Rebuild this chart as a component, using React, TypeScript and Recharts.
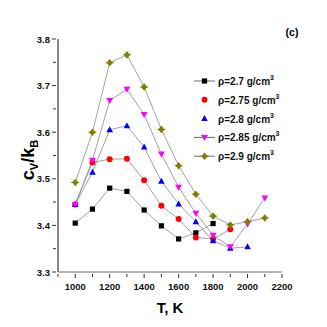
import { LineChart, Line, XAxis, YAxis } from 'recharts';

const temps = [1000, 1100, 1200, 1300, 1400, 1500, 1600, 1700, 1800, 1900, 2000, 2100];
const rho27 = [3.405, 3.435, 3.48, 3.473, 3.433, 3.399, 3.371, 3.384, 3.404];
const rho275 = [3.445, 3.535, 3.542, 3.543, 3.497, 3.442, 3.414, 3.374, 3.371, 3.392];
const rho28 = [3.445, 3.514, 3.605, 3.614, 3.568, 3.495, 3.446, 3.408, 3.367, 3.351, 3.354];
const rho285 = [3.445, 3.54, 3.668, 3.692, 3.638, 3.553, 3.482, 3.426, 3.379, 3.354, 3.403, 3.459];
const rho29 = [3.492, 3.6, 3.749, 3.766, 3.697, 3.606, 3.528, 3.467, 3.42, 3.401, 3.408, 3.416];

const xTicks = [900, 1000, 1100, 1200, 1300, 1400, 1500, 1600, 1700, 1800, 1900, 2000, 2100, 2200];
const yTicks = [3.3, 3.35, 3.4, 3.45, 3.5, 3.55, 3.6, 3.65, 3.7, 3.75, 3.8];

const series = [
  { key: 'r27', values: rho27, color: '#000000', shape: 'square', label: 'ρ=2.7 g/cm', legendLine: true },
  { key: 'r275', values: rho275, color: '#ff0000', shape: 'circle', label: 'ρ=2.75 g/cm', legendLine: false },
  { key: 'r28', values: rho28, color: '#0000ff', shape: 'up', label: 'ρ=2.8 g/cm', legendLine: false },
  { key: 'r285', values: rho285, color: '#ff00ff', shape: 'down', label: 'ρ=2.85 g/cm', legendLine: true },
  { key: 'r29', values: rho29, color: '#808000', shape: 'diamond', label: 'ρ=2.9 g/cm', legendLine: true },
];

const data = temps.map((t, i) => {
  const row: Record<string, number | undefined> = { T: t };
  series.forEach(s => { row[s.key] = s.values[i]; });
  return row;
});

const font = '"Liberation Sans", Arial, sans-serif';

function Marker({ cx, cy, shape, color }: { cx: number; cy: number; shape: string; color: string }) {
  if (cx == null || cy == null || isNaN(cy)) return null;
  switch (shape) {
    case 'square':
      return <rect x={cx - 2.6} y={cy - 2.6} width={5.2} height={5.2} fill={color} />;
    case 'circle':
      return <circle cx={cx} cy={cy} r={3} fill={color} />;
    case 'up':
      return <polygon points={`${cx},${cy - 3.5} ${cx + 3.3},${cy + 2.5} ${cx - 3.3},${cy + 2.5}`} fill={color} />;
    case 'down':
      return <polygon points={`${cx - 3.5},${cy - 2.5} ${cx + 3.5},${cy - 2.5} ${cx},${cy + 3.5}`} fill={color} />;
    default:
      return (
        <g>
          <polygon points={`${cx},${cy - 3.8} ${cx + 3.2},${cy} ${cx},${cy + 3.8} ${cx - 3.2},${cy}`} fill={color} />
          <line x1={cx - 4} y1={cy} x2={cx + 4} y2={cy} stroke={color} strokeWidth={1} />
        </g>
      );
  }
}

function XTick({ x, y, payload }: any) {
  const major = payload.value % 200 === 0;
  return (
    <g>
      <line x1={x} y1={y} x2={x} y2={y + (major ? 4 : 3)} stroke="#333" strokeWidth={1} />
      {major && (
        <text x={x} y={y + 16} textAnchor="middle" fontSize={9.5} fontWeight="bold" fontFamily={font} fill="#111">
          {payload.value}
        </text>
      )}
    </g>
  );
}

function YTick({ x, y, payload }: any) {
  const major = Math.abs(Math.round(payload.value * 10) - payload.value * 10) < 1e-6;
  return (
    <g>
      <line x1={x} y1={y} x2={x - (major ? 4 : 3)} y2={y} stroke="#333" strokeWidth={1} />
      {major && (
        <text x={x - 6} y={y + 3.5} textAnchor="end" fontSize={9.5} fontWeight="bold" fontFamily={font} fill="#111">
          {payload.value.toFixed(1)}
        </text>
      )}
    </g>
  );
}

export default function App() {
  return (
    <div style={{ position: 'absolute', left: 0, top: 0, width: 327, height: 327, background: '#fff' }}>
      <LineChart width={327} height={327} data={data} margin={{ top: 39, right: 45, left: 0, bottom: 25 }}>
        <XAxis
          dataKey="T"
          type="number"
          domain={[900, 2200]}
          ticks={xTicks}
          tick={<XTick />}
          tickLine={false}
          tickSize={0}
          height={30}
          stroke="#666"
          interval={0}
        />
        <YAxis
          type="number"
          domain={[3.3, 3.8]}
          ticks={yTicks}
          tick={<YTick />}
          tickLine={false}
          tickSize={0}
          width={58}
          stroke="#111"
          interval={0}
        />
        {series.map(s => (
          <Line
            key={s.key}
            dataKey={s.key}
            stroke="#8a8a8a"
            strokeWidth={0.8}
            isAnimationActive={false}
            connectNulls={false}
            dot={(p: any) => <Marker key={`${s.key}-${p.index}`} cx={p.cx} cy={p.cy} shape={s.shape} color={s.color} />}
            activeDot={false}
          />
        ))}
      </LineChart>
      <svg width={327} height={327} style={{ position: 'absolute', left: 0, top: 0, pointerEvents: 'none' }}>
        <text x={292} y={36} textAnchor="middle" fontSize={10.5} fontWeight="bold" fontFamily={font}>(c)</text>
        {series.map((s, i) => {
          const y = 81 + i * 18.8;
          return (
            <g key={s.key}>
              {s.legendLine && <line x1={194} y1={y} x2={215} y2={y} stroke="#444" strokeWidth={0.8} />}
              <Marker cx={204.5} cy={y} shape={s.shape} color={s.color} />
              <text x={218} y={y + 4} fontSize={10} fontWeight="bold" fontFamily={font} fill="#111">
                {s.label}
                <tspan fontSize={7} dy={-5}>3</tspan>
              </text>
            </g>
          );
        })}
        <text x={170} y={313} textAnchor="middle" fontSize={15} fontWeight="bold" fontFamily={font}>T, K</text>
        <text transform="translate(34,160) rotate(-90)" textAnchor="middle" fontSize={18} fontWeight="bold" fontFamily={font}>
          c<tspan fontSize={11} dy={4}>V</tspan><tspan dy={-4}>/k</tspan><tspan fontSize={11} dy={4}>B</tspan>
        </text>
      </svg>
    </div>
  );
}
